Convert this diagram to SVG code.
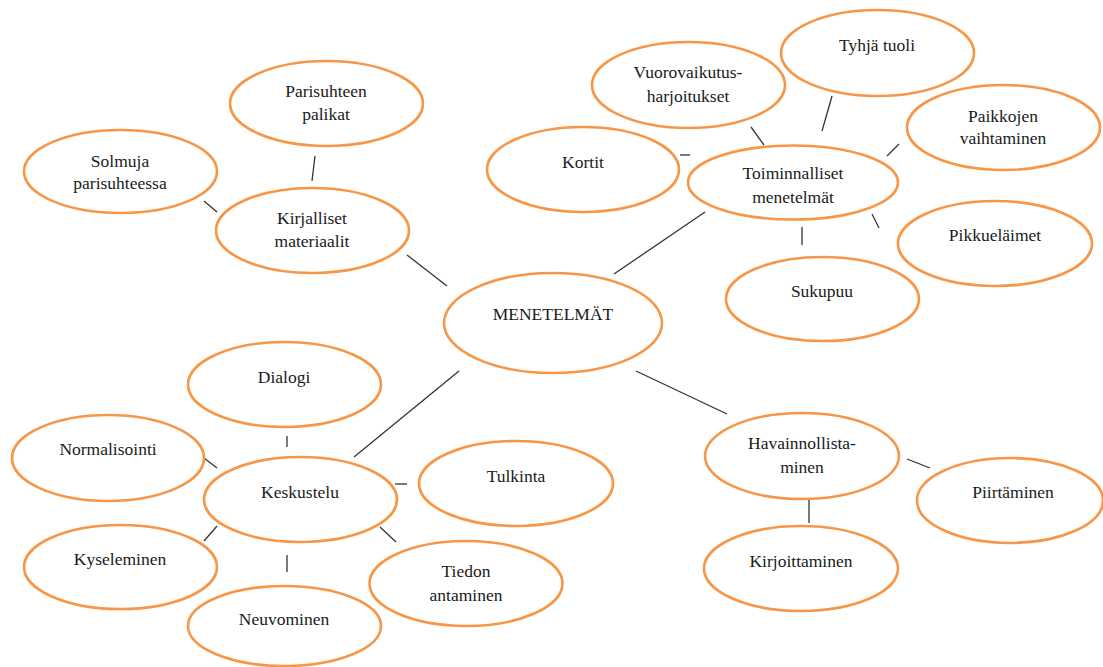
<svg xmlns="http://www.w3.org/2000/svg" width="1103" height="667" viewBox="0 0 1103 667">
<style>
  .n ellipse { fill: #ffffff; stroke: #F79646; stroke-width: 2.6; }
  .n text { font-family: "Liberation Serif", "Times New Roman", serif; font-size: 17.5px; fill: #1a1a1a; text-anchor: middle; }
  #connectors line { stroke: #333333; stroke-width: 1.3; }
</style>
<rect width="1103" height="667" fill="#ffffff"/>
<g id="connectors">
  <line x1="315" y1="156" x2="312" y2="181"/>
  <line x1="204" y1="201" x2="217" y2="212"/>
  <line x1="407" y1="255" x2="447" y2="286"/>
  <line x1="680" y1="155" x2="690" y2="155"/>
  <line x1="751" y1="127" x2="764" y2="145"/>
  <line x1="832" y1="96" x2="822" y2="131"/>
  <line x1="899" y1="144" x2="887" y2="156"/>
  <line x1="872" y1="214" x2="879" y2="228"/>
  <line x1="802" y1="227" x2="802" y2="245"/>
  <line x1="705" y1="212" x2="614" y2="274"/>
  <line x1="636" y1="371" x2="727" y2="414"/>
  <line x1="459" y1="371" x2="354" y2="457"/>
  <line x1="907" y1="459" x2="930" y2="468"/>
  <line x1="809" y1="499" x2="809" y2="523"/>
  <line x1="287" y1="436" x2="287" y2="447"/>
  <line x1="204" y1="458" x2="217" y2="468"/>
  <line x1="204" y1="541" x2="217" y2="526"/>
  <line x1="287" y1="555" x2="287" y2="572"/>
  <line x1="380" y1="527" x2="396" y2="542"/>
  <line x1="395" y1="484" x2="407" y2="484"/>
</g>
<g id="parisuhteen" class="n"><ellipse cx="326.5" cy="103.5" rx="96.5" ry="42.5"/><text x="326" y="97">Parisuhteen</text><text x="326" y="120">palikat</text></g>
<g id="solmuja" class="n"><ellipse cx="120.5" cy="171.5" rx="96.5" ry="41.5"/><text x="120" y="167">Solmuja</text><text x="120" y="189">parisuhteessa</text></g>
<g id="kirjalliset" class="n"><ellipse cx="312.5" cy="230.5" rx="96.5" ry="42.5"/><text x="312" y="224">Kirjalliset</text><text x="312" y="247">materiaalit</text></g>
<g id="tyhja" class="n"><ellipse cx="877.5" cy="53" rx="96.5" ry="43"/><text x="877" y="51">Tyhjä tuoli</text></g>
<g id="vuorovaikutus" class="n"><ellipse cx="688.5" cy="85" rx="96.5" ry="43"/><text x="688" y="78">Vuorovaikutus-</text><text x="688" y="102">harjoitukset</text></g>
<g id="paikkojen" class="n"><ellipse cx="1003.5" cy="127.5" rx="96.5" ry="42.5"/><text x="1003" y="122">Paikkojen</text><text x="1003" y="144">vaihtaminen</text></g>
<g id="kortit" class="n"><ellipse cx="583" cy="169.5" rx="96" ry="42.5"/><text x="583" y="168">Kortit</text></g>
<g id="toiminnalliset" class="n"><ellipse cx="793" cy="182.5" rx="105" ry="37"/><text x="793" y="179">Toiminnalliset</text><text x="793" y="203">menetelmät</text></g>
<g id="pikkuelaimet" class="n"><ellipse cx="995" cy="243.5" rx="97" ry="42.5"/><text x="995" y="241">Pikkueläimet</text></g>
<g id="sukupuu" class="n"><ellipse cx="822.5" cy="299" rx="96.5" ry="42"/><text x="822" y="297">Sukupuu</text></g>
<g id="menetelmat" class="n"><ellipse cx="553" cy="323" rx="109" ry="50"/><text x="553" y="320">MENETELMÄT</text></g>
<g id="havainnollistaminen" class="n"><ellipse cx="802" cy="456" rx="97" ry="43"/><text x="802" y="449">Havainnollista-</text><text x="802" y="473">minen</text></g>
<g id="piirtaminen" class="n"><ellipse cx="1010" cy="500.5" rx="93" ry="42.5"/><text x="1013" y="498">Piirtäminen</text></g>
<g id="kirjoittaminen" class="n"><ellipse cx="801" cy="568.5" rx="97" ry="42.5"/><text x="801" y="567">Kirjoittaminen</text></g>
<g id="tulkinta" class="n"><ellipse cx="516" cy="483.5" rx="97" ry="42.5"/><text x="516" y="482">Tulkinta</text></g>
<g id="tiedon" class="n"><ellipse cx="466" cy="583.5" rx="96.5" ry="42.5"/><text x="466" y="577">Tiedon</text><text x="466" y="601">antaminen</text></g>
<g id="dialogi" class="n"><ellipse cx="284.5" cy="384.5" rx="96.5" ry="42.5"/><text x="284" y="383">Dialogi</text></g>
<g id="normalisointi" class="n"><ellipse cx="108" cy="458" rx="96" ry="43"/><text x="108" y="455">Normalisointi</text></g>
<g id="keskustelu" class="n"><ellipse cx="300.5" cy="499.5" rx="96.5" ry="42.5"/><text x="300" y="498">Keskustelu</text></g>
<g id="kyseleminen" class="n"><ellipse cx="120.5" cy="567" rx="96.5" ry="42"/><text x="120" y="565">Kyseleminen</text></g>
<g id="neuvominen" class="n"><ellipse cx="284.5" cy="626" rx="96.5" ry="40"/><text x="284" y="625">Neuvominen</text></g>
</svg>
